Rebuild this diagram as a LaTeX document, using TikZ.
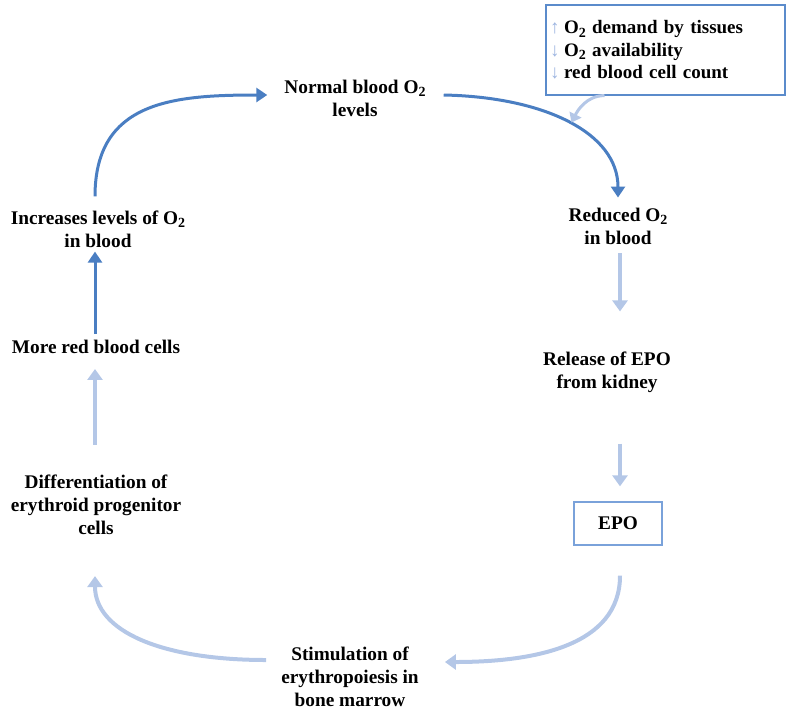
\documentclass[tikz,border=0pt]{standalone}
\usepackage{fontspec}
\setmainfont{Liberation Serif}
\usetikzlibrary{arrows.meta}

\definecolor{darkflow}{HTML}{4A7EC2}
\definecolor{lightflow}{HTML}{B4C7E7}
\definecolor{markflow}{HTML}{9DB5E0}
\definecolor{boxline}{HTML}{5B8BCB}
\definecolor{epoline}{HTML}{7AA2DA}

\newcommand\Otwo{O\raisebox{-0.4ex}{\fontsize{14}{14}\selectfont 2}}
\newcommand\upmark{\makebox[14pt][l]{\color{markflow}\fontsize{19}{19}\selectfont\mdseries ↑}}
\newcommand\downmark{\makebox[14pt][l]{\color{markflow}\fontsize{19}{19}\selectfont\mdseries ↓}}

\begin{document}
\begin{tikzpicture}[x=1pt,y=-1pt,
  flowtext/.style={font=\fontsize{19.3}{23}\selectfont\bfseries, align=center, inner sep=2pt},
  infobox/.style={draw=boxline, line width=1.2pt, font=\fontsize{19}{22.5}\selectfont\bfseries,
    align=left, text width=231pt, inner xsep=4pt, minimum height=90pt},
  epobox/.style={draw=epoline, line width=1.3pt, font=\fontsize{19.3}{23}\selectfont\bfseries,
    minimum width=88pt, minimum height=43pt},
  darkarrow/.style={draw=darkflow, line width=3pt, -{Triangle[length=11pt,width=14pt]}},
  lightarrow/.style={draw=lightflow, line width=4pt, -{Triangle[length=11pt,width=15pt]}},
  smallarrow/.style={draw=lightflow, line width=3pt, -{Triangle[length=9pt,width=13pt]}},
]
\useasboundingbox (0,0) rectangle (786,710);

% stages of the feedback loop
\node[flowtext] (normal)  at (355,98)    {Normal blood \Otwo\\levels};
\node[flowtext] (reduced) at (618,226)   {Reduced \Otwo\\in blood};
\node[flowtext] (release) at (607,372)   {Release of EPO\\from kidney};
\node[epobox]   (epo)     at (618,523.5) {EPO};
\node[flowtext] (stim)    at (350,677)   {Stimulation of\\erythropoiesis in\\bone marrow};
\node[flowtext] (diff)    at (96,505)    {Differentiation of\\erythroid progenitor\\cells};
\node[flowtext] (more)    at (96,347)    {More red blood cells};
\node[flowtext] (incr)    at (98,229)    {Increases levels of \Otwo\\in blood};

% triggers
\node[infobox] (info) at (665.5,50)
  {\upmark\Otwo{} demand by tissues\\\downmark\Otwo{} availability\\\downmark red blood cell count};

% connectors
\draw[darkarrow] ([xshift=-3pt,yshift=12pt]incr.north) .. controls +(0,-95) and +(-95,0)
  .. ([xshift=-15pt,yshift=3pt]normal.west);
\draw[darkarrow] ([xshift=16pt,yshift=3pt]normal.east) .. controls +(100,2) and +(0,-65)
  .. ([xshift=0pt,yshift=8pt]reduced.north);
\draw[lightarrow] ([xshift=2pt,yshift=-7pt]reduced.south) -- ([xshift=2pt,yshift=38pt]reduced.south |- release.north);
\draw[lightarrow] ([xshift=13pt,yshift=-49pt]release.south) -- ([xshift=13pt,yshift=15pt]release.south |- epo.north);
\draw[lightarrow] ([xshift=2pt,yshift=-30pt]epo.south) .. controls +(0,70) and +(90,0)
  .. ([xshift=24pt,yshift=15pt]stim.east);
\draw[lightarrow] ([xshift=-13pt,yshift=17pt]stim.west) .. controls +(-105,0) and +(0,55)
  .. ([xshift=-1pt,yshift=-39pt]diff.south);
\draw[lightarrow] ([xshift=-1pt,yshift=28pt]diff.north) -- ([xshift=-1pt,yshift=-13pt]diff.north |- more.south);
\draw[darkarrow] ([xshift=-1pt,yshift=4pt]more.north) -- ([xshift=-3pt,yshift=-2pt]incr.south);
\draw[smallarrow] ([xshift=-61pt]info.south) .. controls +(-18,0) and +(6,-12)
  .. ([xshift=-94pt,yshift=-27pt]info.south);
\end{tikzpicture}
\end{document}
